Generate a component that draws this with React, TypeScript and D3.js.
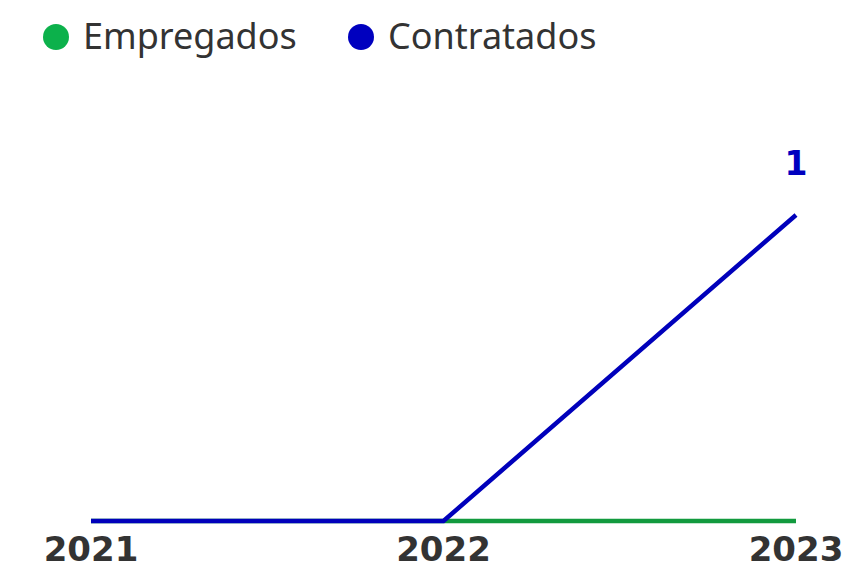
import { useEffect, useRef } from 'react';
import * as d3 from 'd3';

const years = ['2021', '2022', '2023'];
const empregados = [0, 0, 0];
const contratados = [0, 0, 1];
const seriesNames = ['Empregados', 'Contratados'];
const seriesColors = ['#0cb14b', '#0000bf'];
const lineColors = ['#129a3e', '#0000bb'];

const App = () => {
    const ref = useRef<SVGSVGElement | null>(null);

    useEffect(() => {
        const svg = d3.select(ref.current);
        svg.selectAll('*').remove();

        const x = d3.scalePoint<string>().domain(years).range([91, 796]);
        const y = d3.scaleLinear().domain([0, 1]).range([521, 215]);

        // legend
        const legendX = [56, 361];
        seriesNames.forEach((name, i) => {
            const g = svg.append('g').attr('transform', `translate(${legendX[i]},37)`);
            g.append('circle').attr('r', 13).attr('fill', seriesColors[i]);
            g.append('text')
                .attr('x', 27)
                .attr('y', 12)
                .attr('font-family', 'Noto Sans')
                .attr('font-size', 36)
                .attr('fill', '#333333')
                .text(name);
        });

        const line = d3.line<number>()
            .x((_, i) => x(years[i]) as number)
            .y(d => y(d));

        const all = [empregados, contratados];
        all.forEach((vals, i) => {
            svg.append('path')
                .datum(vals)
                .attr('d', line)
                .attr('fill', 'none')
                .attr('stroke', lineColors[i])
                .attr('stroke-width', 4.5);
        });

        // value label on last point
        const last = contratados.length - 1;
        svg.append('text')
            .attr('x', x(years[last]) as number)
            .attr('y', y(contratados[last]) - 40)
            .attr('text-anchor', 'middle')
            .attr('font-family', 'DejaVu Sans')
            .attr('font-weight', 'bold')
            .attr('font-size', 33)
            .attr('fill', seriesColors[1])
            .text(contratados[last]);

        // x axis labels
        svg.selectAll('.year')
            .data(years)
            .enter()
            .append('text')
            .attr('class', 'year')
            .attr('x', d => x(d) as number)
            .attr('y', 561)
            .attr('text-anchor', 'middle')
            .attr('font-family', 'DejaVu Sans')
            .attr('font-weight', 'bold')
            .attr('font-size', 34)
            .attr('fill', '#333333')
            .text(d => d);
    }, []);

    return (
        <svg ref={ref} width={845} height={564}
            style={{ position: 'absolute', left: 0, top: 0, background: '#ffffff' }} />
    );
};

export default App;
